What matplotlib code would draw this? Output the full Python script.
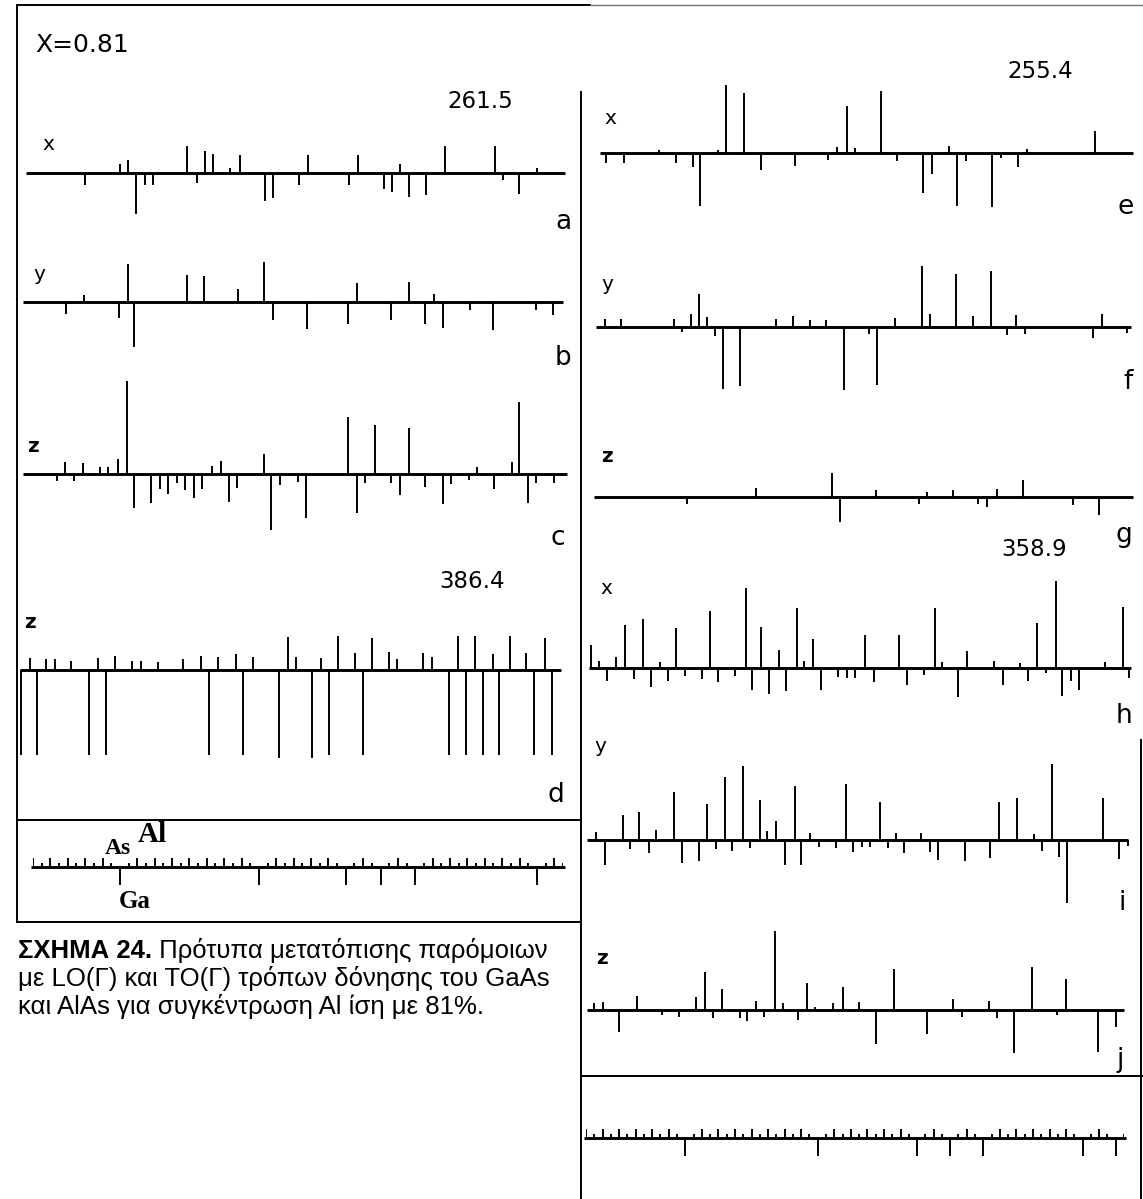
import matplotlib.pyplot as plt

W, H = 1143, 1199
DPI = 100

# ---- displacement patterns: position along the chain (0-100) and signed amplitude ----
a_pos = [11.0, 17.5, 18.9, 20.5, 22.1, 23.6, 29.9, 31.8, 33.2, 34.7, 37.9, 39.7, 44.4, 45.9,
         50.7, 52.4, 60.0, 61.6, 66.4, 67.9, 69.4, 71.1, 74.2, 77.7, 87.1, 88.5, 91.5, 94.8]
a_amp = [-12, 9, 13, -41, -12, -12, 27, -10, 22, 19, 5, 18, -28, -25,
         -12, 18, -12, 18, -16, -19, 9, -24, -22, 27, 27, -7, -21, 5]

b_pos = [7.4, 10.7, 17.2, 18.9, 20.1, 29.9, 33.0, 39.4, 44.1, 45.8, 52.1, 59.8, 61.5, 67.7,
         71.0, 74.1, 75.7, 77.3, 82.3, 86.6, 94.7, 97.8]
b_amp = [-12, 7, -16, 38, -45, 27, 26, 13, 40, -18, -27, -22, 19, -18,
         20, -22, 8, -26, -8, -28, -8, -13]

c_pos = [5.7, 7.3, 8.9, 10.6, 13.7, 15.3, 17.0, 18.7, 20.1, 23.2, 24.9, 26.4, 28.0, 29.5,
         31.2, 32.7, 34.6, 36.1, 37.6, 39.2, 44.2, 45.5, 47.2, 50.4, 51.9, 59.8, 61.4, 62.9,
         64.7, 67.7, 69.3, 71.1, 74.1, 77.3, 78.9, 82.1, 83.7, 86.8, 90.1, 91.5, 93.1, 94.6, 97.9]
c_amp = [-7, 12, -7, 11, 7, 7, 15, 93, -34, -29, -15, -20, -9, -16,
         -24, -15, 8, 13, -28, -14, 20, -56, -11, -8, -44, 57, -39, -9,
         49, -9, -21, 46, -13, -30, -10, -6, 7, -15, 12, 72, -29, -9, -9]

d_pos = [-1.0, 0.7, 2.1, 3.8, 5.4, 8.4, 11.7, 13.4, 14.8, 16.6, 19.6, 21.3, 24.4, 29.2,
         32.4, 34.0, 35.7, 39.0, 40.3, 42.1, 46.9, 48.6, 50.0, 53.1, 54.8, 56.2, 57.9, 61.0,
         62.5, 64.2, 67.3, 68.9, 73.6, 75.4, 78.5, 80.2, 81.6, 83.3, 84.7, 86.6, 87.8, 89.8,
         92.8, 94.3, 96.2, 97.6]
d_amp = [-85, 12, -85, 11, 11, 9, -85, 12, -85, 14, 9, 9, 8, 11,
         14, -85, 13, 16, -85, 13, -88, 33, 13, -88, 12, -85, 34, 17,
         -85, 32, 18, 11, 17, 13, -85, 34, -85, 34, -85, 16, -85, 34,
         17, -85, 32, -85]

e_pos = [1.1, 4.5, 11.0, 14.3, 17.4, 18.7, 22.1, 23.7, 27.1, 30.2, 36.6, 42.8, 44.4, 46.3,
         47.8, 52.7, 55.8, 60.6, 62.2, 65.5, 66.9, 68.7, 73.6, 75.3, 78.5, 80.1, 92.9]
e_amp = [-10, -10, 3, -10, -14, -53, 3, 68, 60, -17, -13, -7, 6, 47,
         5, 62, -8, -40, -21, 7, -53, -8, -54, -5, -14, 4, 22]

f_pos = [1.0, 4.0, 13.8, 15.3, 17.0, 18.5, 20.0, 21.5, 23.1, 26.3, 33.0, 36.2, 39.4, 42.4,
         45.8, 50.5, 51.9, 55.4, 60.5, 62.0, 66.7, 69.9, 73.3, 76.4, 78.0, 79.8, 92.5, 94.1, 98.9]
f_amp = [8, 8, 8, -5, 13, 33, 10, -9, -62, -59, 8, 11, 7, 7,
         -63, -7, -58, 9, 61, 13, 53, 11, 56, -8, 12, -7, -11, 13, -6]

g_pos = [16.4, 29.2, 43.6, 45.1, 51.7, 59.9, 61.3, 66.3, 71.0, 72.7, 74.4, 79.3, 88.8, 93.6]
g_amp = [-7, 9, 24, -25, 7, -7, 5, 7, -7, -10, 8, 17, -8, -18]

h_pos = [-1.7, -0.1, 1.3, 3.0, 4.7, 6.3, 8.1, 9.6, 11.2, 12.7, 14.3, 15.9, 19.1, 20.7,
         22.2, 25.4, 27.3, 28.5, 30.3, 31.8, 33.5, 34.9, 36.9, 38.2, 39.9, 41.4, 44.6, 46.3,
         47.8, 49.7, 51.4, 56.1, 57.6, 60.8, 62.8, 64.2, 67.1, 68.9, 73.9, 75.6, 78.8, 80.3,
         82.0, 83.6, 85.5, 86.7, 88.4, 89.9, 94.8, 98.1, 99.3]
h_amp = [23, 7, -13, 11, 43, -11, 49, -19, 6, -13, 40, -8, -11, 57,
         -14, -8, 80, -22, 41, -26, 18, -23, 60, 7, 29, -22, -9, -10,
         -10, 33, -14, 33, -17, -7, 60, 6, -29, 17, 7, -17, 5, -13,
         45, -5, 87, -28, -13, -22, 6, 61, -10]

i_pos = [-0.7, 0.9, 4.4, 5.7, 7.4, 9.1, 10.6, 13.9, 15.4, 18.5, 20.0, 21.7, 23.4, 24.8,
         26.8, 28.1, 30.0, 31.3, 33.0, 34.7, 36.5, 37.7, 39.4, 41.1, 44.2, 46.1, 47.5, 49.2,
         50.7, 52.5, 54.0, 55.6, 57.1, 60.3, 62.0, 63.4, 68.4, 73.1, 74.9, 78.3, 81.5, 83.0,
         84.8, 86.1, 87.7, 94.3, 97.3, 99.0]
i_amp = [8, -25, 25, -9, 28, -13, 10, 48, -23, -21, 36, -9, 63, -11,
         74, -8, 40, 9, 19, -25, 54, -25, 7, -7, -8, 56, -12, -7,
         -7, 38, -8, 7, -13, 7, -12, -20, -21, -18, 38, 42, 6, -11,
         76, -17, -63, 42, -19, -6]

j_pos = [-1.1, 0.5, 3.6, 6.9, 11.6, 14.8, 18.0, 19.7, 21.2, 22.8, 26.3, 27.5, 29.3, 30.8,
         32.8, 34.3, 37.2, 38.9, 40.4, 43.8, 45.5, 48.6, 51.7, 55.1, 61.3, 66.3, 67.9, 72.9,
         74.4, 77.6, 81.0, 85.7, 87.4, 93.5, 96.8]
j_amp = [7, 8, -22, 14, -5, -7, 13, 38, -8, 21, -8, -11, 9, -7,
         79, 7, -10, 27, 3, 7, 23, 8, -34, 41, -24, 11, -7, 9,
         -8, -43, 43, -5, 31, -42, -17]

# cation sites of the two reference chains (A = Al, G = Ga); As sits between them
left_sites = "AAAAAGAAAAAAAGAAAAGAGAGAAAAAAGA"
right_sites = "AAAAAAGAAAAAAAGAAAAAGAGAGAAAAAGAG"

caption_bold = "ΣΧΗΜΑ 24."
caption_lines = [" Πρότυπα μετατόπισης παρόμοιων",
                 "με LO(Γ) και TO(Γ) τρόπων δόνησης του GaAs",
                 "και AlAs για συγκέντρωση Al ίση με 81%."]

fig = plt.figure(figsize=(W / DPI, H / DPI), dpi=DPI)
fig.patch.set_facecolor("white")

ov = fig.add_axes([0, 0, 1, 1])
ov.set_xlim(0, W)
ov.set_ylim(H, 0)
ov.axis("off")


def chain_axes(x0, x1, ybase, span=110):
    ax = fig.add_axes([x0 / W, 1 - (ybase + span) / H, (x1 - x0) / W, 2 * span / H])
    ax.set_ylim(-span, span)
    ax.axis("off")
    return ax


def draw_pattern(pos, amp, x0, x1, ybase, lo, hi):
    ax = chain_axes(x0, x1, ybase)
    ax.set_xlim(0, 100)
    ax.hlines(0, lo, hi, color="k", lw=2.1, clip_on=False)
    ax.vlines(pos, 0, amp, color="k", lw=1.4, clip_on=False)


def draw_ruler(sites, x0, x1, ybase):
    ax = chain_axes(x0, x1, ybase)
    n = len(sites)
    ax.set_xlim(0, n - 0.5)
    ax.hlines(0, -0.1, n - 0.4, color="k", lw=2.1, clip_on=False)
    al = [k for k, s in enumerate(sites) if s == "A"]
    ga = [k for k, s in enumerate(sites) if s == "G"]
    ax.vlines(al, 0, 9, color="k", lw=1.4)
    ax.vlines([k + 0.5 for k in range(n)], 0, 4.5, color="k", lw=1.4)
    ax.vlines(ga, 0, -18, color="k", lw=1.4)


LX0, LX1 = 26, 565
RX0, RX1 = 600, 1133

draw_pattern(a_pos, a_amp, LX0, LX1, 173, 0, 100)
draw_pattern(b_pos, b_amp, LX0, LX1, 302, -0.5, 99.7)
draw_pattern(c_pos, c_amp, LX0, LX1, 474, -0.5, 100.3)
draw_pattern(d_pos, d_amp, LX0, LX1, 670, -1.2, 99.3)

draw_pattern(e_pos, e_amp, RX0, RX1, 153, 0, 100)
draw_pattern(f_pos, f_amp, RX0, RX1, 327, -0.7, 99.7)
draw_pattern(g_pos, g_amp, RX0, RX1, 497, -1.1, 100)
draw_pattern(h_pos, h_amp, RX0, RX1, 668, -2.0, 99.7)
draw_pattern(i_pos, i_amp, RX0, RX1, 840, -2.4, 99.0)
draw_pattern(j_pos, j_amp, RX0, RX1, 1010, -2.5, 98.3)

draw_ruler(left_sites, 33, 563, 867)
draw_ruler(right_sites, 586, 1124, 1138)

# frame
k = dict(color="k", lw=1.4)
ov.plot([17, 590], [5, 5], **k)
ov.plot([590, 1143], [5, 5], color="0.45", lw=1.0)
ov.plot([17, 17], [5, 922], **k)
ov.plot([581, 581], [92, 1199], **k)
ov.plot([1141, 1141], [740, 1199], **k)
ov.plot([17, 581], [820, 820], **k)
ov.plot([17, 581], [922, 922], **k)
ov.plot([581, 1143], [1076, 1076], **k)

# texts
lab = dict(family="DejaVu Sans", color="k", ha="center", va="center")
ov.text(35, 45, "X=0.81", fontsize=18, ha="left", va="center", family="DejaVu Sans")
ov.text(480, 102, "261.5", fontsize=16.5, **lab)
ov.text(472, 582, "386.4", fontsize=16.5, **lab)
ov.text(1040, 72, "255.4", fontsize=16.5, **lab)
ov.text(1034, 550, "358.9", fontsize=16.5, **lab)

for s, x, y in [("a", 563, 222), ("b", 563, 358), ("c", 558, 538), ("d", 556, 795),
                ("e", 1126, 207), ("f", 1128, 382), ("g", 1124, 535), ("h", 1124, 716),
                ("i", 1122, 903), ("j", 1120, 1060)]:
    ov.text(x, y, s, fontsize=19, **lab)

for s, x, y, w in [("x", 48, 145, "normal"), ("y", 39, 275, "normal"), ("z", 33, 446, "bold"),
                   ("z", 30, 622, "bold"), ("x", 610, 118, "normal"), ("y", 607, 285, "normal"),
                   ("z", 607, 456, "bold"), ("x", 606, 588, "normal"), ("y", 600, 747, "normal"),
                   ("z", 602, 958, "bold")]:
    ov.text(x, y, s, fontsize=14.5, fontweight=w, **lab)

serif = dict(family="Liberation Serif", fontweight="bold", color="k", ha="center", va="center")
ov.text(118, 849, "As", fontsize=17, **serif)
ov.text(152, 835, "Al", fontsize=21, **serif)
ov.text(135, 902, "Ga", fontsize=18, **serif)

cap = dict(family="Liberation Sans", fontsize=18.5, color="k", va="baseline")
t0 = ov.text(18, 958, caption_bold, fontweight="bold", ha="left", **cap)
ov.annotate(caption_lines[0], xy=(1, 0), xycoords=t0, ha="left", va="bottom",
            family="Liberation Sans", fontsize=18.5)
ov.text(18, 986, caption_lines[1], ha="left", **cap)
ov.text(18, 1014, caption_lines[2], ha="left", **cap)

fig.savefig("out.png", dpi=DPI, facecolor="white")
